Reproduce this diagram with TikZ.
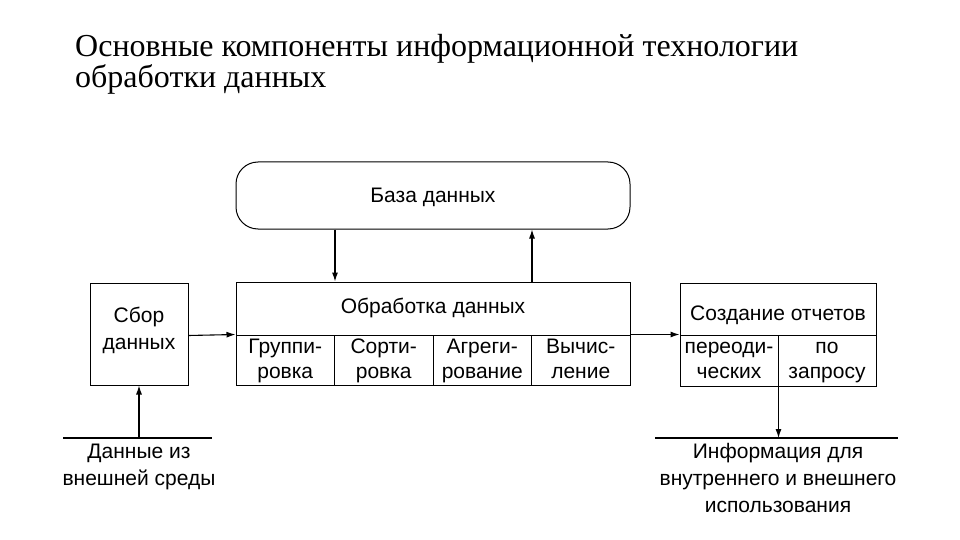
\documentclass[tikz,border=0pt]{standalone}
\usepackage{fontspec}
\setmainfont{Liberation Serif}
\newfontfamily\arialf{Liberation Sans}
\usetikzlibrary{arrows.meta}
\newcommand\topst[1]{\rule{0pt}{#1}}
\newcommand\botst[1]{\rule[-#1]{0pt}{#1}}
\tikzset{
  box/.style={draw, line width=1pt, inner sep=0pt, align=center,
    font=\arialf\fontsize{21}{25}\selectfont},
  lbl/.style={inner sep=0pt, align=center, font=\arialf\fontsize{21}{27}\selectfont},
  arr/.style={-{Latex[length=9pt,width=6pt]}, line width=1.1pt},
  ln/.style={line width=1.1pt},
  ttl/.style={anchor=base west, inner sep=0pt, font=\fontsize{32}{31}\selectfont}
}
\begin{document}
\begin{tikzpicture}[x=1pt,y=-1pt]
\useasboundingbox[fill=white] (0,0) rectangle (960,540);
\node[ttl] (t1) at (75,57) {Основные компоненты информационной технологии};
\node[ttl] (t2) at (75,88) {обработки данных};

\node[box, rounded corners=22pt, minimum width=394pt, text height=40pt, text depth=27pt] (db) at (433,195.5) {База данных};

\node[box, minimum width=98pt, minimum height=102pt, font=\arialf\fontsize{21}{27}\selectfont] (sbor) at (139,334) {\topst{15pt}Сбор\\данных\botst{12pt}};

\node[box, minimum width=394pt, text height=31pt, text depth=22pt] (hdr) at (433,308.5) {Обработка данных};
\node[box, minimum width=98.5pt, minimum height=50pt] (g1) at (285.25,360) {\topst{18pt}Группи-\\ровка\botst{7pt}};
\node[box, minimum width=98.5pt, minimum height=50pt] (g2) at (383.75,360) {\topst{18pt}Сорти-\\ровка\botst{7pt}};
\node[box, minimum width=98.5pt, minimum height=50pt] (g3) at (482.25,360) {\topst{18pt}Агреги-\\рование\botst{7pt}};
\node[box, minimum width=98.5pt, minimum height=50pt] (g4) at (580.75,360) {\topst{18pt}Вычис-\\ление\botst{7pt}};

\node[box, minimum width=196pt, text height=37pt, text depth=15pt] (rhdr) at (778,309) {Создание отчетов};
\node[box, minimum width=98pt, minimum height=51pt] (r1) at (729,360.5) {\topst{18pt}переоди-\\ческих\botst{8pt}};
\node[box, minimum width=98pt, minimum height=51pt] (r2) at (827,360.5) {\topst{18pt}по\\запросу\botst{8pt}};

\coordinate (inl) at (63,438);
\coordinate (inr) at (212,438);
\coordinate (outl) at (655,438);
\coordinate (outr) at (898,438);
\draw[ln] (inl) -- (inr);
\draw[ln] (outl) -- (outr);
\node[lbl, anchor=north] (indata) at (139,439) {\topst{19pt}Данные из\\внешней среды};
\node[lbl, anchor=north] (outdata) at (778,439) {\topst{19pt}Информация для\\внутреннего и внешнего\\использования};

\draw[arr] (g1.east |- db.south) -- (g1.east |- hdr.north);
\draw[arr] (g3.east |- hdr.north) -- (g3.east |- db.south);
\draw[arr] (sbor.east |- hdr.south) -- (g1.north west);
\draw[arr] (g4.north east) -- (r1.north west);
\draw[arr] (r1.south east) -- (r1.south east |- outl);
\draw[arr] (sbor.south |- inl) -- (sbor.south);
\end{tikzpicture}
\end{document}
